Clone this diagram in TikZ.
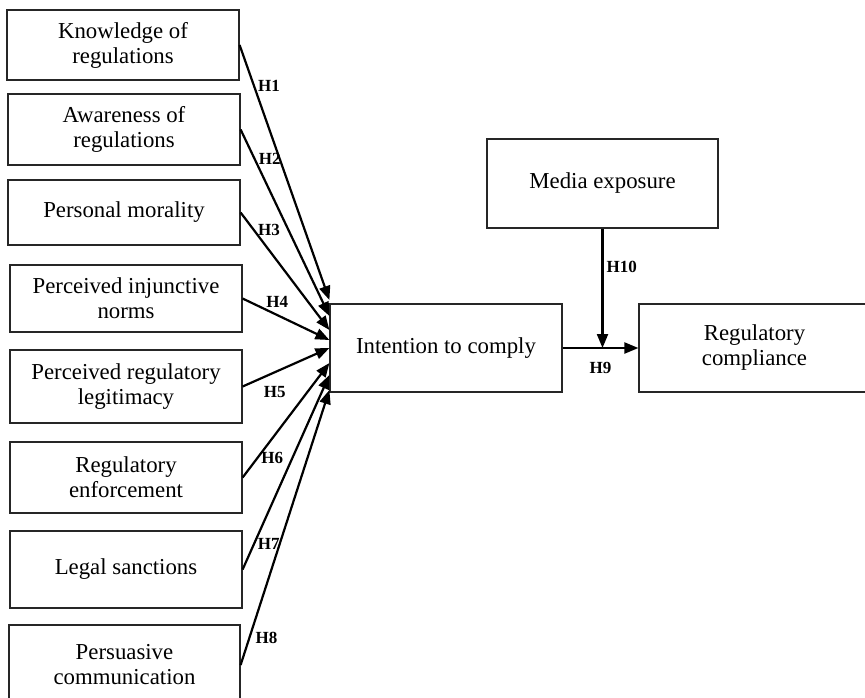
\documentclass[tikz,border=0pt]{standalone}
\usepackage{fontspec}
\setmainfont{Liberation Serif}
\usetikzlibrary{arrows.meta,calc}

\begin{document}
\begin{tikzpicture}[x=0.5pt, y=-0.5pt,
		box/.style={draw=black!85, line width=0.6pt, align=center, inner sep=0pt,
			minimum width=116pt, font=\fontsize{11.4}{12.5}\selectfont},
		link/.style={line width=1.1pt, -{Triangle[length=7pt, width=5.5pt]}},
		hyp/.style={font=\fontsize{8.5}{9}\selectfont\bfseries, inner sep=1.5pt}]
		\useasboundingbox (0,0) rectangle (865,697);

		% Draw the boxes on the left
		\node[box, minimum height=35pt] (know) at (123,45) {Knowledge of\\regulations};
		\node[box, minimum height=35.5pt] (aware) at (124,129.5) {Awareness of\\regulations};
		\node[box, minimum height=32.5pt] (moral) at (124,212.5) {Personal morality};
		\node[box, minimum height=33.5pt] (norms) at (126,298.5) {Perceived injunctive\\norms};
		\node[box, minimum height=36.5pt] (legit) at (126,386.5) {Perceived regulatory\\legitimacy};
		\node[box, minimum height=35.5pt] (enforce) at (126,477.5) {Regulatory\\enforcement};
		\node[box, minimum height=38.5pt] (sanct) at (126,569.5) {Legal sanctions};
		\node[box, minimum height=40pt, minimum width=115.5pt] (persu) at (124.5,665) {Persuasive\\communication};

		% Draw the boxes on the right
		\node[box, minimum height=44pt] (intent) at (446,348) {Intention to comply};
		\node[box, minimum height=44.5pt, minimum width=115.5pt] (media) at (602.5,183.5) {Media exposure};
		\node[box, minimum height=44pt, minimum width=115.5pt] (comply) at (754.5,348) {Regulatory\\compliance};

		% Draw the hypotheses H1 to H8
		\draw[link] (know.east) -- ($(intent.west)+(0,-48)$) node[hyp, pos=0.16, anchor=west] {H1};
		\draw[link] (aware.east) -- ($(intent.west)+(0,-32)$) node[hyp, pos=0.16, anchor=west] {H2};
		\draw[link] (moral.east) -- ($(intent.west)+(0,-18)$) node[hyp, pos=0.15, anchor=west] {H3};
		\draw[link] (norms.east) -- ($(intent.west)+(0,-8)$) node[hyp, pos=0.4, above=2pt] {H4};
		\draw[link] (legit.east) -- ($(intent.west)+(0,0)$) node[hyp, pos=0.37, below=5pt] {H5};
		\draw[link] (enforce.east) -- ($(intent.west)+(0,15)$) node[hyp, pos=0.17, anchor=west] {H6};
		\draw[link] (sanct.east) -- ($(intent.west)+(0,27)$) node[hyp, pos=0.13, anchor=west] {H7};
		\draw[link] (persu.east) -- ($(intent.west)+(0,42)$) node[hyp, pos=0.1, anchor=west, xshift=1pt] {H8};

		% Draw H9 and the moderating H10
		\coordinate (join) at (media.south |- intent.east);
		\draw[link] (intent.east) -- (comply.west) node[hyp, pos=0.5, below=5pt] {H9};
		\draw[link] (media.south) -- (join) node[hyp, pos=0.32, anchor=west] {H10};
	\end{tikzpicture}
\end{document}
